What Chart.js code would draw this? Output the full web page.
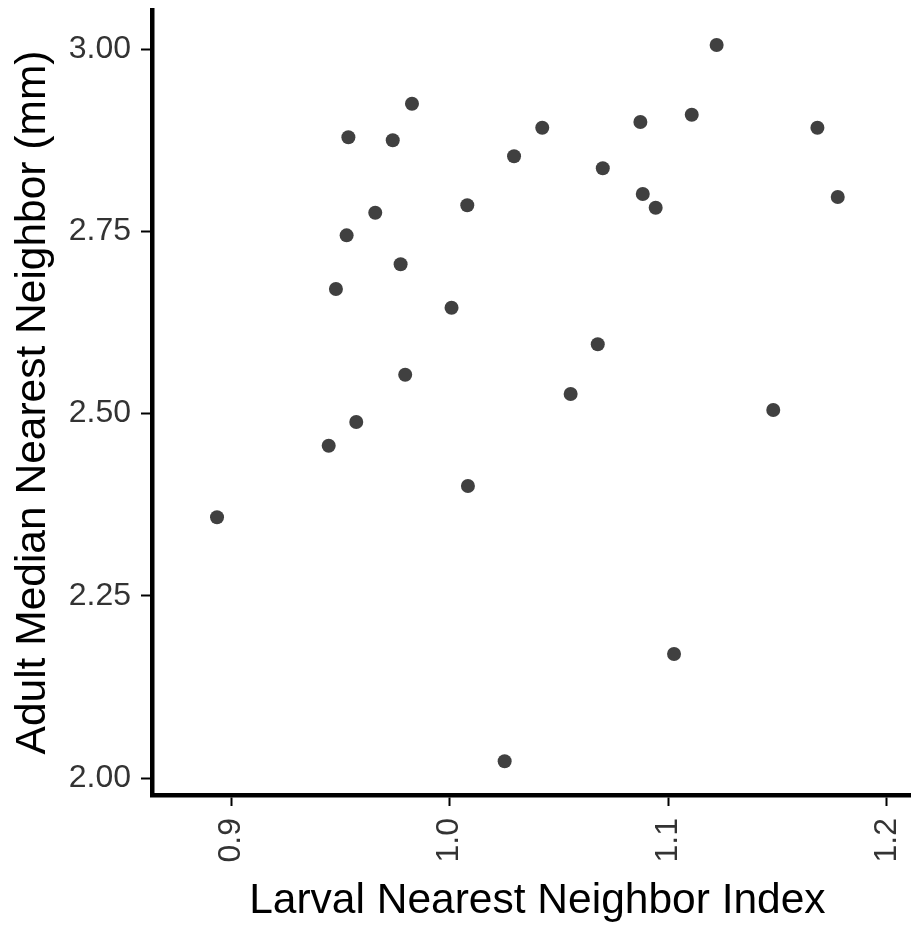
<!DOCTYPE html>
<html>
<head>
<meta charset="utf-8">
<script src="https://cdn.jsdelivr.net/npm/chart.js@4.4.0/dist/chart.umd.min.js"></script>
<style>
  body { margin: 0; background: #fff; }
  #wrap { width: 911px; height: 930px; }
</style>
</head>
<body>
<div id="wrap"><canvas id="graph1" width="911" height="930"></canvas></div>
<script>
// valeurs
const larvalIndex = [0.8936, 0.9447, 0.9480, 0.9529, 0.9537, 0.9573, 0.9660, 0.9740, 0.9776, 0.9797,
                     0.9828, 1.0009, 1.0084, 1.0081, 1.0252, 1.0295, 1.0424, 1.0554, 1.0678, 1.0701,
                     1.0873, 1.0884, 1.0943, 1.1027, 1.1108, 1.1222, 1.1481, 1.1683, 1.1776];
const adultMedian = [2.358, 2.456, 2.671, 2.7445, 2.879, 2.4885, 2.7755, 2.8748, 2.7048, 2.5534,
                     2.925, 2.6453, 2.4008, 2.7857, 2.0233, 2.8529, 2.8921, 2.5269, 2.5951, 2.8364,
                     2.900, 2.8012, 2.7824, 2.1704, 2.9099, 3.0055, 2.505, 2.8921, 2.797];
const xTicks = [0.9, 1.0, 1.1, 1.2];
const yTicks = [2.00, 2.25, 2.50, 2.75, 3.00];

const points = larvalIndex.map((x, i) => ({x: x, y: adultMedian[i]}));
const police = 'Liberation Sans, Arial, sans-serif';

new Chart(document.querySelector('#graph1'), {
  type: 'scatter',
  data: {
    datasets: [{
      data: points,
      backgroundColor: '#404040',
      borderWidth: 0,
      pointRadius: 7,
      pointHoverRadius: 7
    }]
  },
  options: {
    responsive: false,
    animation: false,
    layout: { autoPadding: false, padding: { top: 10, right: 0, bottom: 0, left: 0 } },
    plugins: { legend: { display: false }, tooltip: { enabled: false } },
    scales: {
      x: {
        type: 'linear',
        min: 0.86385,
        max: 1.21112,
        afterBuildTicks: s => { s.ticks = xTicks.map(v => ({value: v})); },
        afterFit: s => { s.height = 135; s.paddingLeft = 0; s.paddingRight = 0; },
        ticks: {
          minRotation: 90, maxRotation: 90, padding: 12, autoSkip: false,
          color: '#333', font: { family: police, size: 32 },
          callback: v => v.toFixed(1)
        },
        grid: { drawOnChartArea: false, tickLength: 11, tickWidth: 2, tickColor: '#000' },
        border: { color: '#000', width: 4.5 },
        title: {
          display: true, text: '\u00a0Larval Nearest Neighbor Index', color: '#000',
          font: { family: police, size: 42.5 }, padding: { top: 0, bottom: 3 }
        }
      },
      y: {
        type: 'linear',
        min: 1.97710,
        max: 3.05348,
        afterBuildTicks: s => { s.ticks = yTicks.map(v => ({value: v})); },
        afterFit: s => { s.width = 152; s.paddingTop = 0; s.paddingBottom = 0; },
        ticks: {
          padding: 10, autoSkip: false,
          color: '#333', font: { family: police, size: 32 },
          callback: v => v.toFixed(2)
        },
        grid: { drawOnChartArea: false, tickLength: 11, tickWidth: 2, tickColor: '#000' },
        border: { color: '#000', width: 4.5 },
        title: {
          display: true, text: 'Adult Median Nearest Neighbor (mm)', color: '#000',
          font: { family: police, size: 42.5 }, padding: { top: 8, bottom: 0 }
        }
      }
    }
  }
});
</script>
</body>
</html>
